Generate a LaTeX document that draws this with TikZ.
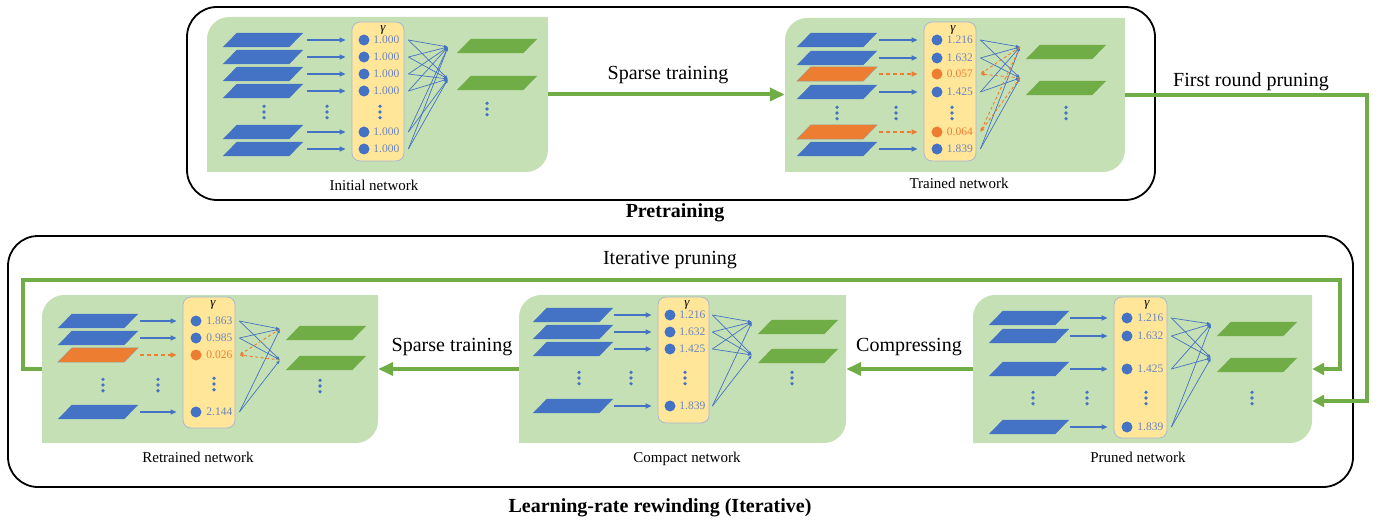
\documentclass[tikz,border=0pt]{standalone}
\usepackage{fontspec}
\setmainfont{Liberation Serif}
\usetikzlibrary{arrows.meta,calc,positioning}
\definecolor{panelg}{HTML}{C5E0B4}
\definecolor{blu}{HTML}{4472C4}
\definecolor{org}{HTML}{ED7D31}
\definecolor{grn}{HTML}{70AD47}
\definecolor{yel}{HTML}{FFE699}
\definecolor{ybord}{HTML}{A9B8D4}
\definecolor{valb}{HTML}{6A84C2}
\tikzset{
 lbox/.style={rectangle, minimum width=80, minimum height=14, inner sep=0, draw=none},
 gbox/.style={draw=ybord, fill=yel, rounded corners=8, line width=0.8, inner sep=0},
 gdot/.style={circle, fill=blu, minimum size=11, inner sep=0},
 odot/.style={circle, fill=org, minimum size=11, inner sep=0},
 val/.style={font=\fontsize{11.5}{12}\selectfont, text=valb, inner sep=0},
 oval/.style={font=\fontsize{11.5}{12}\selectfont, text=org, inner sep=0},
 gam/.style={font=\fontsize{13}{14}\selectfont\itshape, inner sep=0},
 barrow/.style={blu, line width=1.4, -{Triangle[length=6pt,width=5pt]}},
 oarrow/.style={org, line width=1.4, dash pattern=on 4pt off 3pt, -{Triangle[length=6pt,width=5pt]}},
 wire/.style={blu, line width=0.7, -{Latex[length=4pt,width=3pt]}},
 owire/.style={org, line width=0.9, dash pattern=on 3pt off 2.5pt, -{Latex[length=4pt,width=3.5pt]}},
 conn/.style={grn, line width=4, -{Triangle[length=15pt,width=13pt]}},
 conn2/.style={grn, line width=4, -{Triangle[length=12pt,width=12pt]}},
 lbl/.style={font=\fontsize{20}{24}\selectfont, inner sep=0},
 capt/.style={font=\fontsize{15}{18}\selectfont, inner sep=0, text height=10.5pt, text depth=3.5pt},
 ttl/.style={font=\fontsize{20}{24}\selectfont\bfseries, inner sep=0},
 outer/.style={draw=black, line width=1.8, rounded corners=30, inner sep=0},
 vd/.pic={\fill[blu] (0,-5.7) circle[radius=1.8pt]; \fill[blu] (0,0) circle[radius=1.8pt]; \fill[blu] (0,5.7) circle[radius=1.8pt];}
}
\newcommand\mkpanel[5]{%
 \fill[panelg] (#1,#4) -- (#1,#2+22) .. controls (#1,#2+10) and (#1+10,#2) .. (#1+22,#2) -- (#3,#2) -- (#3,#4-22) .. controls (#3,#4-10) and (#3-10,#4) .. (#3-22,#4) -- cycle;
 \node[inner sep=0, minimum width={#3-#1}, minimum height={#4-#2}] (#5) at ({(#1+#3)/2},{(#2+#4)/2}) {};
}
% parallelogram layer: style, name, x, y
\newcommand\lay[4]{%
 \node[lbox] (#2) at (#3,#4) {};
 \fill[#1] (#2.south west) -- ([xshift=-14pt]#2.south east) -- (#2.north east) -- ([xshift=14pt]#2.north west) -- cycle;
}
\begin{document}
\begin{tikzpicture}[x=1pt,y=-1pt]
\useasboundingbox (0,0) rectangle (1387,524);
% outer frames
\node[outer, minimum width=968, minimum height=193] (preBox) at (671,103.5) {};
\node[outer, minimum width=1345, minimum height=251] (lrrBox) at (680.5,361.5) {};
\node[ttl] (preT) at (675,213) {Pretraining};
\node[ttl] (lrrT) at (660,508) {Learning-rate rewinding (Iterative)};

% ================= Initial network
\mkpanel{207}{17}{548}{172}{initP}
\node[gbox, minimum width=52, minimum height=139] (iG) at (378,91.5) {};
\node[gam] (iGam) at (383,30) {γ};
\coordinate (iT1) at (448,47); \coordinate (iT2) at (448,79);
\foreach \n/\y in {1/40,2/57,3/74,4/91,5/132,6/149}{
 \lay{blu}{iL\n}{263}{\y}
 \node[gdot] (iC\n) at (364,\y) {};
 \node[val, right=3.5pt of iC\n] (iV\n) {1.000};
 \draw[barrow] ($(iL\n.east)+(4,0)$) -- ($(iG.west |- iC\n)+(-6,0)$);
 \draw[wire] ($(iG.east |- iC\n)+(4,0)$) -- (iT1);
 \draw[wire] ($(iG.east |- iC\n)+(4,0)$) -- (iT2);
}
\lay{grn}{iO1}{497}{46}
\lay{grn}{iO2}{497}{83}
\pic at (264,112) {vd}; \pic at (327,112) {vd}; \pic at (380,112) {vd}; \pic at (487,109) {vd};
\node[capt] (iCap) at (374,187) {Initial network};

% ================= Trained network
\mkpanel{785}{18}{1125}{172}{trainP}
\node[gbox, minimum width=52, minimum height=139] (tG) at (950,91.5) {};
\node[gam] (tGam) at (953,30) {γ};
\coordinate (tT1) at (1020,47); \coordinate (tT2) at (1020,78);
\foreach \n/\y/\v in {1/40/1.216,2/58/1.632,4/92/1.425,6/149/1.839}{
 \lay{blu}{tL\n}{837}{\y}
 \node[gdot] (tC\n) at (937,\y) {};
 \node[val, right=4pt of tC\n] (tV\n) {\v};
 \draw[barrow] ($(tL\n.east)+(2,0)$) -- ($(tG.west |- tC\n)+(-6,0)$);
 \draw[wire] ($(tG.east |- tC\n)+(4,0)$) -- (tT1);
 \draw[wire] ($(tG.east |- tC\n)+(4,0)$) -- (tT2);
}
\foreach \n/\y/\v in {3/74/0.057,5/132/0.064}{
 \lay{org,draw=gray!80,line width=0.4}{tL\n}{837}{\y}
 \node[odot] (tC\n) at (937,\y) {};
 \node[oval, right=4pt of tC\n] (tV\n) {\v};
 \draw[oarrow] ($(tL\n.east)+(2,0)$) -- ($(tG.west |- tC\n)+(-6,0)$);
 \draw[owire] (tT1) -- ($(tG.east |- tC\n)+(4,0)$);
 \draw[owire] (tT2) -- ($(tG.east |- tC\n)+(4,0)$);
}
\lay{grn}{tO1}{1066}{52}
\lay{grn}{tO2}{1066}{88}
\pic at (837,113) {vd}; \pic at (896,113) {vd}; \pic at (952,113) {vd}; \pic at (1066,113) {vd};
\node[capt] (tCap) at (959,185) {Trained network};

% ================= Retrained network
\mkpanel{42}{295}{378}{443}{retrP}
\node[gbox, minimum width=52, minimum height=131] (rG) at (209,362.5) {};
\node[gam] (rGam) at (213,305) {γ};
\coordinate (rT1) at (280,329); \coordinate (rT2) at (280,360);
\foreach \n/\y/\v in {1/321/1.863,2/338/0.985,4/412/2.144}{
 \lay{blu}{rL\n}{98}{\y}
 \node[gdot] (rC\n) at (196,\y) {};
 \node[val, right=4.5pt of rC\n] (rV\n) {\v};
 \draw[barrow] ($(rL\n.east)+(2,0)$) -- ($(rG.west |- rC\n)+(-6,0)$);
 \draw[wire] ($(rG.east |- rC\n)+(4,0)$) -- (rT1);
 \draw[wire] ($(rG.east |- rC\n)+(4,0)$) -- (rT2);
}
\foreach \n/\y/\v in {3/355/0.026}{
 \lay{org,draw=gray!80,line width=0.4}{rL\n}{98}{\y}
 \node[odot] (rC\n) at (196,\y) {};
 \node[oval, right=4.5pt of rC\n] (rV\n) {\v};
 \draw[oarrow] ($(rL\n.east)+(2,0)$) -- ($(rG.west |- rC\n)+(-6,0)$);
 \draw[owire] (rT1) -- ($(rG.east |- rC\n)+(4,0)$);
 \draw[owire] (rT2) -- ($(rG.east |- rC\n)+(4,0)$);
}
\lay{grn}{rO1}{326}{333}
\lay{grn}{rO2}{326}{363}
\pic at (103,385) {vd}; \pic at (158,385) {vd}; \pic at (214,384) {vd}; \pic at (320,386) {vd};
\node[capt] (rCap) at (198,459) {Retrained network};

% ================= Compact network
\mkpanel{519}{295}{846}{443}{compP}
\node[gbox, minimum width=51, minimum height=126] (cG) at (683.5,360) {};
\node[gam] (cGam) at (687,305) {γ};
\coordinate (cT1) at (752,322); \coordinate (cT2) at (752,355);
\foreach \n/\y/\v in {1/315/1.216,2/332/1.632,3/349/1.425,4/406/1.839}{
 \lay{blu}{cL\n}{573}{\y}
 \node[gdot] (cC\n) at (670,\y) {};
 \node[val, right=3.5pt of cC\n] (cV\n) {\v};
 \draw[barrow] ($(cL\n.east)+(1,0)$) -- ($(cG.west |- cC\n)+(-6,0)$);
 \draw[wire] ($(cG.east |- cC\n)+(3,0)$) -- (cT1);
 \draw[wire] ($(cG.east |- cC\n)+(3,0)$) -- (cT2);
}
\lay{grn}{cO1}{798}{327}
\lay{grn}{cO2}{798}{356}
\pic at (579,378) {vd}; \pic at (631,378) {vd}; \pic at (685,378) {vd}; \pic at (792,378) {vd};
\node[capt] (cCap) at (687,459) {Compact network};

% ================= Pruned network
\mkpanel{973}{295}{1312}{443}{prunP}
\node[gbox, minimum width=53, minimum height=141] (pG) at (1140.5,367.5) {};
\node[gam] (pGam) at (1147,305) {γ};
\coordinate (pT1) at (1211,324); \coordinate (pT2) at (1211,358);
\foreach \n/\y/\v in {1/318/1.216,2/336/1.632,3/369/1.425,4/427/1.839}{
 \lay{blu}{pL\n}{1029}{\y}
 \node[gdot] (pC\n) at (1127,\y) {};
 \node[val, right=4.5pt of pC\n] (pV\n) {\v};
 \draw[barrow] ($(pL\n.east)+(1,0)$) -- ($(pG.west |- pC\n)+(-6,0)$);
 \draw[wire] ($(pG.east |- pC\n)+(4,0)$) -- (pT1);
 \draw[wire] ($(pG.east |- pC\n)+(4,0)$) -- (pT2);
}
\lay{grn}{pO1}{1257}{329}
\lay{grn}{pO2}{1257}{365}
\pic at (1033,398) {vd}; \pic at (1087,398) {vd}; \pic at (1146,398) {vd}; \pic at (1252,398) {vd};
\node[capt] (pCap) at (1138,459) {Pruned network};

% ================= Connectors
\draw[conn] (initP.east) -- (initP.east -| trainP.west);
\node[lbl] (lSp1) at (668,75) {Sparse training};

\coordinate (fr1) at (1367,93);
\coordinate (fr2) at (1367,401);
\draw[conn2] (trainP.east) -- (trainP.east -| fr1) -- (fr2) -- (fr2 -| prunP.east);
\node[lbl] (lFirst) at (1251,82) {First round pruning};

\coordinate (it1) at (23,280);
\coordinate (it2) at (1340,280);
\draw[conn2] (retrP.west) -- (retrP.west -| it1) -- (it1) -- (it2) -- (it2 |- prunP.east) -- (prunP.east);
\node[lbl] (lIter) at (670,260) {Iterative pruning};

\draw[conn] (prunP.west) -- (compP.east);
\node[lbl] (lComp) at (909,347) {Compressing};

\draw[conn] (compP.west) -- (retrP.east);
\node[lbl] (lSp2) at (452,347) {Sparse training};
\end{tikzpicture}
\end{document}
